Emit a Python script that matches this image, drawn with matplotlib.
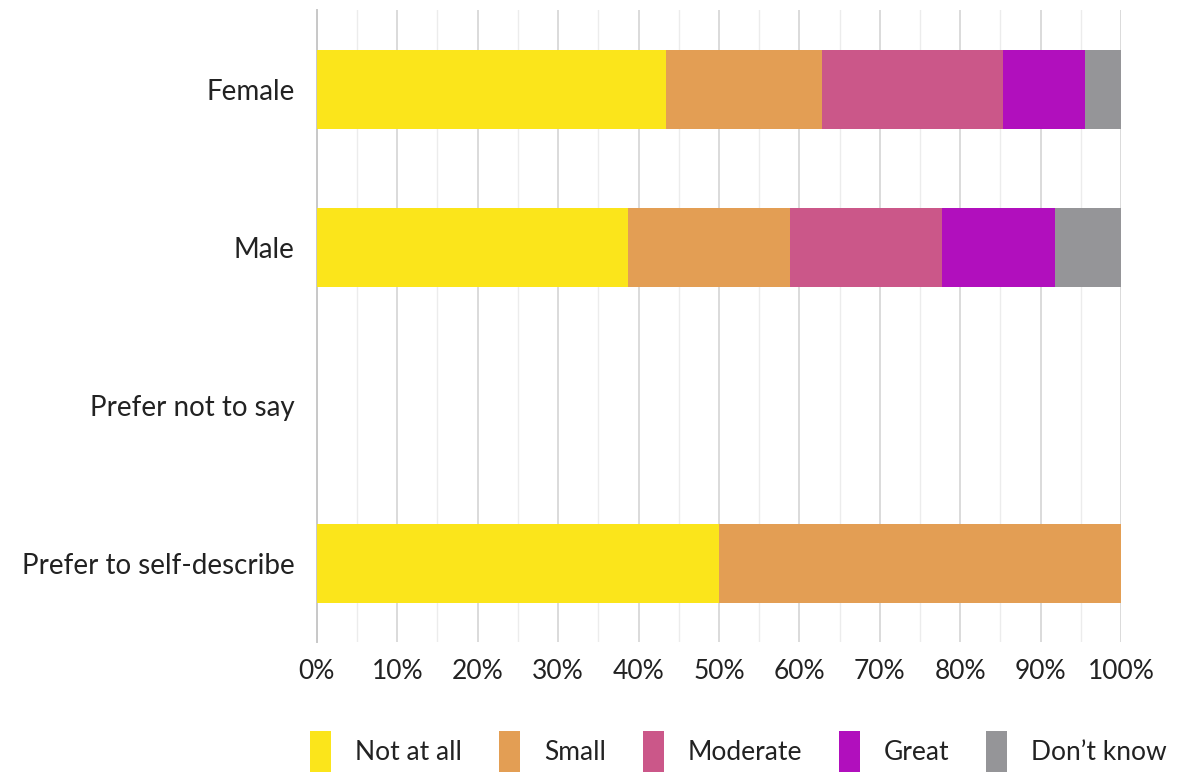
import numpy as np
import matplotlib
matplotlib.use("Agg")
import matplotlib.pyplot as plt
from matplotlib.ticker import MultipleLocator, PercentFormatter

plt.rcParams['font.family'] = ['Lato', 'DejaVu Sans']

categories = ['Female', 'Male', 'Prefer not to say', 'Prefer to self-describe']
responses = ['Not at all', 'Small', 'Moderate', 'Great', 'Don\u2019t know']
colors = ['#fbe51b', '#e39e54', '#cb5789', '#b10fbd', '#959598']

not_at_all = [43.4, 38.7, 0, 50.0]
small = [19.4, 20.1, 0, 50.0]
moderate = [22.5, 18.9, 0, 0]
great = [10.2, 14.1, 0, 0]
dont_know = [4.5, 8.2, 0, 0]
series = [not_at_all, small, moderate, great, dont_know]

fig = plt.figure(figsize=(11.78, 7.72), dpi=100)
ax = fig.add_axes([0.269, 0.168, 0.6826, 0.819])

y = np.arange(len(categories))
left = np.zeros(len(categories))
for vals, name, c in zip(series, responses, colors):
    vals = np.array(vals)
    ax.barh(y, vals, left=left, height=0.5, color=c, label=name, zorder=3)
    left += vals

ax.set_xlim(0, 100)
ax.set_ylim(len(categories) - 0.5, -0.5)
ax.set_yticks(y)
ax.set_yticklabels(categories)
ax.xaxis.set_major_locator(MultipleLocator(10))
ax.xaxis.set_minor_locator(MultipleLocator(5))
ax.xaxis.set_major_formatter(PercentFormatter(decimals=0))
ax.grid(axis='x', which='major', color='#d4d4d4', lw=1.2, zorder=0)
ax.grid(axis='x', which='minor', color='#ececec', lw=1.0, zorder=0)
for s in ['top', 'right', 'bottom']:
    ax.spines[s].set_visible(False)
ax.spines['left'].set_color('#c8c8c8')
ax.spines['left'].set_linewidth(1.4)
ax.tick_params(axis='both', which='both', length=0, labelsize=19, colors='#222222')
ax.tick_params(axis='y', labelsize=20, pad=16)
ax.tick_params(axis='x', pad=12)

fig.legend(loc='center', bbox_to_anchor=(0.627, 0.027), ncol=5, frameon=False,
           fontsize=19, handlelength=0.8, handleheight=2.0, columnspacing=1.4,
           handletextpad=0.9, labelcolor='#222222')

fig.savefig('out.png', dpi=100)
